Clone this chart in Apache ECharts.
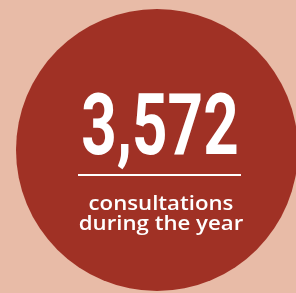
<!DOCTYPE html>
<html>
<head>
<meta charset="utf-8">
<script src="https://cdn.jsdelivr.net/npm/echarts@6/dist/echarts.min.js"></script>
<style>
  html, body { margin: 0; padding: 0; background: #e8bba7; }
  #chart { width: 296px; height: 293px; }
</style>
</head>
<body>
<div id="chart"></div>
<script>
// 数据
const categories = ['consultations']
const values = [3572]
const captionLines = ['consultations', 'during the year']

const chart = echarts.init(document.getElementById('chart'))

const total = values.reduce(function(a, b) { return a + b }, 0)

chart.setOption({
  backgroundColor: '#e8bba7',
  animation: false,
  series: [
    {
      type: 'pie',
      silent: true,
      z: 1,
      center: [157, 150],
      radius: [0, 141],
      label: { show: false },
      labelLine: { show: false },
      itemStyle: { color: '#a03125' },
      data: categories.map(function(name, i) {
        return { name: name, value: values[i] }
      })
    }
  ],
  graphic: {
    elements: [
      {
        type: 'text',
        x: 160,
        y: 132,
        z: 100,
        scaleX: 0.72,
        silent: true,
        style: {
          text: total.toLocaleString('en-US'),
          fill: '#ffffff',
          font: 'bold 86px Roboto, sans-serif',
          align: 'center',
          verticalAlign: 'middle'
        }
      },
      {
        type: 'rect',
        z: 100,
        silent: true,
        shape: { x: 78, y: 174, width: 163, height: 2 },
        style: { fill: '#ffffff' }
      },
      {
        type: 'text',
        x: 161,
        y: 204,
        z: 100,
        scaleX: 1.11,
        silent: true,
        style: {
          text: captionLines[0],
          fill: '#ffffff',
          font: '600 20px "Open Sans", sans-serif',
          align: 'center',
          verticalAlign: 'middle'
        }
      },
      {
        type: 'text',
        x: 161,
        y: 224,
        z: 100,
        scaleX: 1.11,
        silent: true,
        style: {
          text: captionLines[1],
          fill: '#ffffff',
          font: '600 20px "Open Sans", sans-serif',
          align: 'center',
          verticalAlign: 'middle'
        }
      }
    ]
  }
})
</script>
</body>
</html>
